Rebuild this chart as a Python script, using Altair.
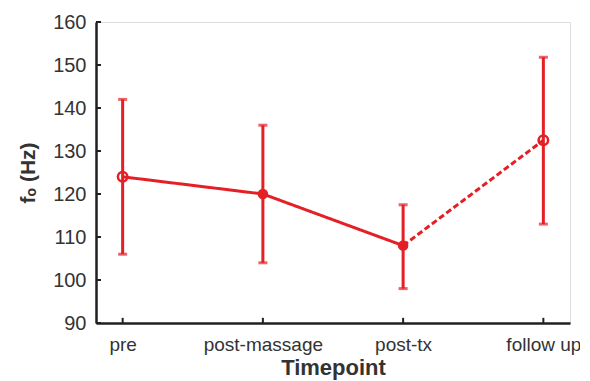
import altair as alt
import pandas as pd

labels = ["pre", "post-massage", "post-tx", "follow up"]
means = [124, 120, 108, 132.5]
upper = [142, 136, 117.5, 151.8]
lower = [106, 104, 98, 113]
filled = [False, True, True, False]
y_ticks = [90, 100, 110, 120, 130, 140, 150, 160]

RED = "#e41f26"
AX = "#231f20"
FONT = "Liberation Sans"

df = pd.DataFrame({"tp": labels, "mean": means, "hi": upper, "lo": lower, "filled": filled})
line_df = pd.DataFrame({
    "tp": labels[:3] + labels[2:],
    "mean": means[:3] + means[2:],
    "seg": ["a", "a", "a", "b", "b"],
})
tick_df = pd.DataFrame({"v": y_ticks})
xt_df = pd.DataFrame({"tp": labels, "y0": [90] * 4, "y1": [91.2] * 4})

xs = alt.Scale(type="point", domain=labels, padding=0.19)
ys = alt.Scale(domain=[90, 160], nice=False, zero=False)

x_enc = alt.X("tp:N", scale=xs, sort=labels, axis=alt.Axis(
    title="Timepoint", labelAngle=0, ticks=False, labelPadding=12,
    labelFontSize=19, labelColor="#333333", labelFont=FONT,
    titleFontSize=22, titleFont=FONT, titleFontWeight="bold", titleColor="#333333",
    titlePadding=3, domainColor=AX, domainWidth=2.5, grid=False))
y_enc = alt.Y("lo:Q", scale=ys, axis=alt.Axis(
    title="fₒ (Hz)", values=y_ticks, ticks=False, labelPadding=10,
    labelFontSize=20, labelColor="#333333", labelFont=FONT,
    titleFontSize=21, titleFont=FONT, titleFontWeight="bold", titleColor="#333333",
    titlePadding=14, domainColor=AX, domainWidth=2.5, grid=False))

base = alt.Chart(df)

err = base.mark_rule(color=RED, strokeWidth=3).encode(
    x=x_enc, y=y_enc, y2="hi:Q")
cap_hi = base.mark_tick(color=RED, thickness=3, size=9, orient="horizontal").encode(
    x=alt.X("tp:N", scale=xs, sort=labels), y=alt.Y("hi:Q", scale=ys))
cap_lo = base.mark_tick(color=RED, thickness=3, size=9, orient="horizontal").encode(
    x=alt.X("tp:N", scale=xs, sort=labels), y=alt.Y("lo:Q", scale=ys))

lines = alt.Chart(line_df).mark_line(color=RED, strokeWidth=3).encode(
    x=alt.X("tp:N", scale=xs, sort=labels),
    y=alt.Y("mean:Q", scale=ys),
    detail="seg:N",
    strokeDash=alt.StrokeDash("seg:N", scale=alt.Scale(domain=["a", "b"], range=[[1, 0], [6, 3]]), legend=None),
)

pts_open = alt.Chart(df[~df["filled"]]).mark_point(
    shape="circle", stroke=RED, strokeWidth=2.5, size=90, filled=False, opacity=1).encode(
    x=alt.X("tp:N", scale=xs, sort=labels), y=alt.Y("mean:Q", scale=ys))
pts_fill = alt.Chart(df[df["filled"]]).mark_point(
    shape="circle", color=RED, size=110, filled=True, opacity=1).encode(
    x=alt.X("tp:N", scale=xs, sort=labels), y=alt.Y("mean:Q", scale=ys))

ytick = alt.Chart(tick_df).mark_rule(color=AX, strokeWidth=2).encode(
    x=alt.value(0), x2=alt.value(5), y=alt.Y("v:Q", scale=ys))
xtick = alt.Chart(xt_df).mark_rule(color=AX, strokeWidth=2).encode(
    x=alt.X("tp:N", scale=xs, sort=labels), y=alt.Y("y0:Q", scale=ys), y2="y1:Q")

chart = alt.layer(err, lines, cap_hi, cap_lo, pts_open, pts_fill, ytick, xtick).properties(
    width=474, height=301,
    autosize=alt.AutoSizeParams(type="none"),
    padding={"left": 88, "top": 14, "right": 10, "bottom": 70},
).configure_view(stroke=None).configure_axis(grid=False).configure(background="white")

chart.save("out.html", embed_options={"renderer": "svg", "actions": False})
